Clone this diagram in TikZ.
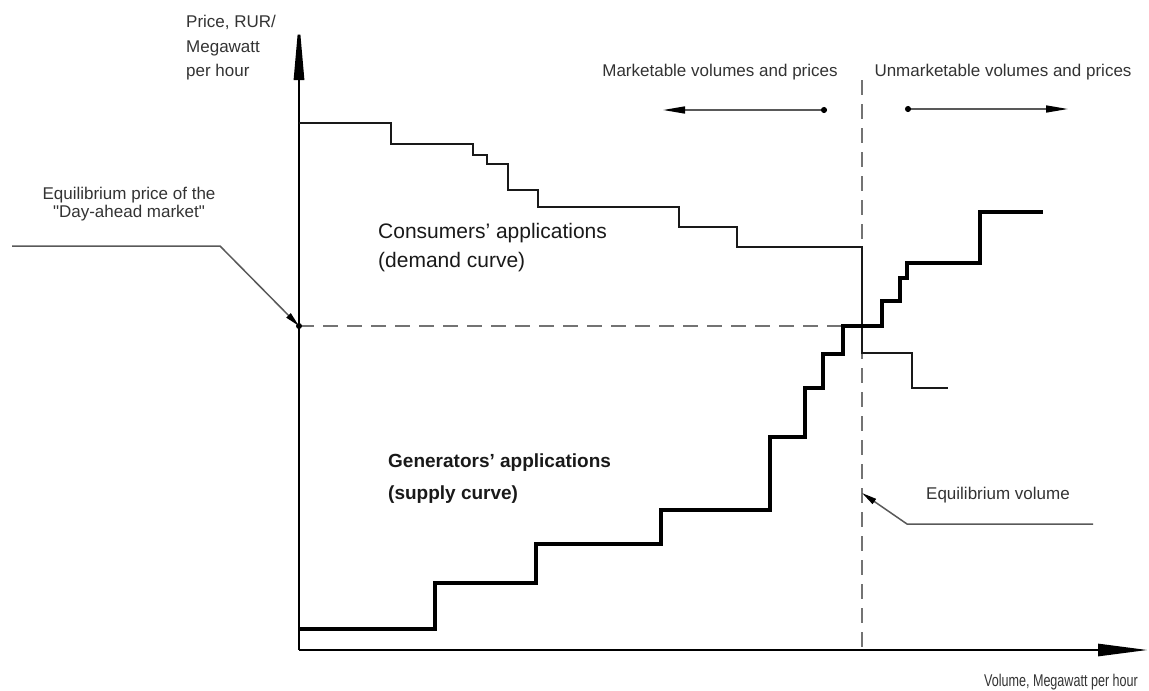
\documentclass[tikz,border=0pt]{standalone}
\usepackage{fontspec}
\setmainfont{Liberation Sans}
\newfontfamily\plainq{Liberation Sans}[Ligatures=ResetAll]
\usetikzlibrary{arrows.meta}
\tikzset{
  axisline/.style={line width=2.8pt, black},
  supplyline/.style={line width=4.5pt, black, line join=miter},
  demandline/.style={line width=2.4pt, black!90, line join=miter},
  guideline/.style={line width=1.3pt, black!55, dash pattern=on 15pt off 9pt},
  leader/.style={line width=1.5pt, black!65},
  leadtip/.style={-{Triangle[length=15pt,width=6pt,color=black]}},
  lbl/.style={inner sep=0pt, text=black!80, font=\fontsize{17}{18}\selectfont},
  bigl/.style={inner sep=0pt, text=black!90, align=left}
}
\begin{document}
\begin{tikzpicture}[x=1pt,y=-1pt]
\useasboundingbox (0,0) rectangle (1149,691);
% axes
\coordinate (O) at (299,650);
\coordinate (ytip) at (299,17);
\coordinate (xtip) at (1148,650);
\draw[axisline, -{Triangle[length=63pt,width=10pt]}] (O) -- (ytip);
\draw[axisline, -{Triangle[length=50pt,width=12pt]}] (O) -- (xtip);
% axis labels
\node[lbl, anchor=west, align=left, font=\fontsize{17}{24.5}\selectfont] (ylab) at (186,48) {Price, RUR/\\Megawatt\\per hour};
\node[lbl] (xlab) at (1061,682) {\scalebox{0.74}[1]{Volume, Megawatt per hour}};
% equilibrium guides
\coordinate (Pe) at (299,326);
\coordinate (E) at (862,326);
\coordinate (Vtop) at (862,80);
\coordinate (Vbot) at (862,650);
\draw[guideline] (Pe) -- (E);
\draw[guideline] (Vtop) -- (Vbot);
\fill[black] (Pe) circle (3pt);
% demand curve
\draw[demandline] (299,123) -- (391,123) -- (391,144) -- (473,144) -- (473,155) -- (487,155) -- (487,164) -- (508,164) -- (508,190) -- (538,190) -- (538,207) -- (679,207) -- (679,227) -- (737,227) -- (737,247) -- (862,247) -- (862,353) -- (912,353) -- (912,388) -- (948,388);
% supply curve
\draw[supplyline] (299,629) -- (435,629) -- (435,583) -- (536,583) -- (536,544) -- (661,544) -- (661,510) -- (770,510) -- (770,437) -- (805,437) -- (805,388) -- (823,388) -- (823,354) -- (843,354) -- (843,326) -- (882,326) -- (882,301) -- (900,301) -- (900,278) -- (907,278) -- (907,263) -- (980,263) -- (980,212) -- (1043,212);
% curve labels
\node[bigl, anchor=west, font=\fontsize{21}{29}\selectfont] (cons) at (378,248) {Consumers' applications\\(demand curve)};
\node[bigl, anchor=west, font=\bfseries\fontsize{19}{32}\selectfont] (gen) at (388,479) {Generators' applications\\(supply curve)};
% equilibrium price label
\node[lbl, align=center, font=\fontsize{17}{17.5}\selectfont] (eqp) at (129,204) {Equilibrium price of the\\{\plainq"}Day-ahead market{\plainq"}};
\coordinate (pl0) at (12,246);
\coordinate (pl1) at (220,246);
\draw[leader, leadtip] (pl0) -- (pl1) -- (Pe);
% equilibrium volume label
\node[lbl] (eqv) at (998,495) {Equilibrium volume};
\coordinate (vl0) at (1093,524);
\coordinate (vl1) at (907,524);
\coordinate (vtip) at (862,493);
\draw[leader, leadtip] (vl0) -- (vl1) -- (vtip);
% market labels
\node[lbl] (mkt) at (720,72) {Marketable volumes and prices};
\node[lbl] (umkt) at (1003,72) {Unmarketable volumes and prices};
\coordinate (m0) at (827,110);
\coordinate (m1) at (663,110);
\coordinate (u0) at (905,109);
\coordinate (u1) at (1068,109);
\draw[leader, {Circle[length=6pt,color=black]}-{Triangle[length=22pt,width=7pt,color=black]}] (m0) -- (m1);
\draw[leader, {Circle[length=6pt,color=black]}-{Triangle[length=22pt,width=7pt,color=black]}] (u0) -- (u1);
\end{tikzpicture}
\end{document}
